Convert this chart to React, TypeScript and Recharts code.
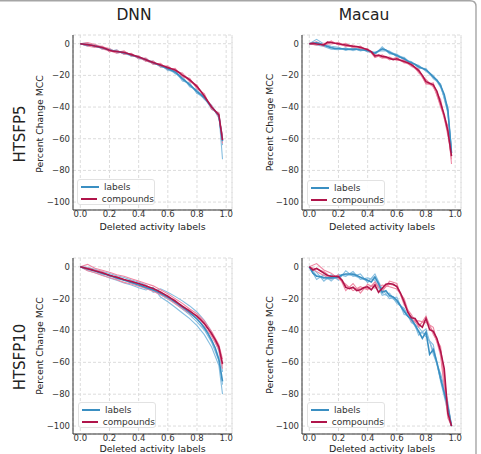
import React from 'react';
import { LineChart, Line, XAxis, YAxis, CartesianGrid, Legend, ReferenceLine } from 'recharts';

// x positions (fraction of deleted activity labels)
const X40 = [0, 0.025, 0.05, 0.075, 0.1, 0.125, 0.15, 0.175, 0.2, 0.225, 0.25, 0.275, 0.3, 0.325, 0.35, 0.375, 0.4, 0.425, 0.45, 0.475, 0.5, 0.525, 0.55, 0.575, 0.6, 0.625, 0.65, 0.675, 0.7, 0.725, 0.75, 0.775, 0.8, 0.825, 0.85, 0.875, 0.9, 0.925, 0.95, 0.975];
const X21 = [0, 0.05, 0.1, 0.15, 0.2, 0.25, 0.3, 0.35, 0.4, 0.45, 0.5, 0.55, 0.6, 0.65, 0.7, 0.75, 0.8, 0.85, 0.9, 0.95, 0.975];

const X_TICKS = [0, 0.2, 0.4, 0.6, 0.8, 1.0];
const Y_TICKS = [0, -20, -40, -60, -80, -100];
const SERIES_ORDER = ['labels', 'compounds'];

// DNN / HTSFP5
const dnn5Labels = [0, -0.4, -0.8, -1.0, -1.4, -2.0, -2.6, -3.3, -4.0, -4.5, -4.9, -5.3, -5.8, -6.4, -7.1, -7.8, -8.6, -9.4, -10.2, -11.1, -12.0, -12.9, -13.8, -14.8, -15.8, -16.8, -17.8, -19.8, -22.0, -24.0, -26.0, -28.0, -30.2, -32.0, -34.0, -37.0, -40.0, -42.5, -45.5, -61.5];
const dnn5Compounds = [0, -0.3, -0.6, -1.0, -1.5, -1.9, -2.4, -3.2, -4.1, -4.7, -4.9, -5.2, -5.6, -6.2, -6.9, -7.6, -8.4, -9.2, -10.1, -11.0, -11.9, -12.7, -13.5, -14.3, -15.1, -15.8, -16.6, -18.0, -19.8, -21.2, -22.9, -24.9, -27.1, -29.8, -33.0, -36.5, -40.0, -42.5, -45.0, -60.8];
const dnn5LabelRuns = [
  [0, 0.5, -2.2, -1.8, -4.8, -3.8, -6.6, -6.2, -9.6, -9.2, -13.0, -12.8, -17.0, -16.5, -23.5, -24.8, -31.5, -33.0, -41.5, -44.0, -73.0],
  [0, -1.6, -0.6, -3.4, -3.2, -5.8, -5.0, -8.0, -7.8, -11.2, -11.0, -14.8, -14.6, -19.0, -20.5, -27.2, -29.0, -35.2, -38.8, -47.0, -58.0],
  [0, -0.4, -1.8, -2.2, -4.6, -4.4, -6.2, -7.6, -8.2, -10.8, -12.4, -13.2, -16.4, -18.4, -22.8, -25.4, -31.0, -34.6, -40.6, -45.0, -64.0],
];
const dnn5CompoundRuns = [
  [0, 0.8, -0.5, -2.0, -3.0, -5.5, -4.5, -7.8, -7.6, -11.2, -11.0, -14.6, -14.0, -17.8, -18.5, -24.0, -26.0, -34.5, -39.0, -46.5, -58.0],
  [0, -1.5, -2.4, -1.5, -5.2, -4.0, -6.8, -6.0, -9.5, -9.0, -13.0, -12.4, -16.4, -15.5, -21.0, -21.8, -28.5, -31.5, -41.5, -43.5, -63.0],
  [0, -0.2, -1.0, -3.3, -4.5, -6.0, -5.0, -7.2, -9.0, -10.8, -12.5, -13.0, -15.5, -17.0, -20.0, -23.5, -27.0, -33.5, -39.5, -45.0, -61.0],
];

// Macau / HTSFP5
const macau5Labels = [0, 0.3, 0.5, 0, -1.0, -1.8, -2.6, -3.0, -3.0, -3.2, -3.4, -3.6, -3.5, -3.4, -3.8, -4.0, -4.4, -5.2, -6.0, -4.5, -3.2, -4.0, -5.5, -6.5, -7.5, -8.5, -9.5, -11.0, -12.0, -13.0, -14.5, -15.5, -16.5, -18.5, -21.0, -23.0, -26.5, -32.0, -42.0, -69.0];
const macau5Compounds = [0, 0.2, -0.2, -0.5, -0.8, 1.0, 0.8, 0.3, 0, -0.5, -0.8, -1.2, -1.6, -1.8, -2.3, -3.0, -3.8, -5.0, -7.8, -7.2, -8.0, -8.3, -9.2, -10.0, -9.5, -10.4, -11.2, -12.0, -13.2, -15.0, -17.0, -20.0, -24.0, -25.0, -26.0, -30.0, -37.5, -45.0, -55.0, -71.0];
const macau5LabelRuns = [
  [0, 2.8, -0.2, -1.6, -2.2, -4.2, -2.6, -4.6, -3.6, -6.8, -2.0, -6.4, -6.6, -10.4, -11.2, -15.4, -15.6, -22.0, -25.4, -44.0, -66.0],
  [0, -0.8, -1.8, -3.4, -3.8, -2.6, -4.4, -3.0, -5.2, -5.2, -4.4, -4.6, -8.4, -8.6, -12.8, -13.6, -17.4, -20.0, -27.6, -40.0, -71.0],
  [0, 1.0, -0.6, -2.2, -3.4, -3.8, -3.0, -4.2, -4.0, -6.4, -3.6, -5.0, -7.0, -9.0, -12.4, -14.0, -17.0, -21.6, -26.0, -42.8, -68.0],
];
const macau5CompoundRuns = [
  [0, 1.2, -1.6, 1.8, -0.8, 0.2, -2.6, -1.5, -4.6, -6.8, -9.2, -8.4, -10.6, -10.2, -14.4, -16.0, -25.6, -24.8, -40.0, -52.0, -76.0],
  [0, -1.0, 0.2, -0.2, 0.8, -1.8, -0.8, -3.2, -3.0, -8.8, -7.0, -10.2, -8.6, -12.2, -12.0, -18.4, -22.6, -27.4, -35.0, -58.0, -68.0],
  [0, 0.4, -1.2, 1.2, -0.4, -1.2, -2.0, -2.8, -4.2, -7.2, -8.6, -9.6, -10.0, -11.6, -13.8, -17.6, -25.0, -26.6, -38.5, -56.0, -73.0],
];

// DNN / HTSFP10
const dnn10Labels = [0, -0.7, -1.4, -2.0, -2.7, -3.4, -4.1, -4.8, -5.6, -6.3, -7.0, -7.7, -8.4, -9.1, -9.8, -10.6, -11.4, -12.2, -13.0, -13.8, -14.6, -15.6, -16.7, -17.9, -19.2, -20.6, -22.1, -23.7, -25.3, -27.0, -28.8, -30.7, -32.8, -35.3, -38.3, -41.8, -46.0, -51.0, -58.0, -72.0];
const dnn10Compounds = [0, -0.6, -1.2, -1.8, -2.5, -3.1, -3.8, -4.5, -5.3, -6.0, -6.6, -7.3, -8.0, -8.6, -9.2, -9.9, -10.5, -11.3, -12.1, -12.9, -13.7, -14.8, -16.0, -17.2, -18.5, -20.0, -21.5, -23.1, -24.8, -26.3, -27.8, -29.4, -31.0, -33.2, -35.7, -38.7, -42.0, -45.8, -50.4, -61.0];
const dnn10LabelRuns = [
  [0, -0.4, -1.6, -3.0, -4.2, -5.6, -6.8, -8.4, -9.6, -11.4, -16.0, -13.8, -16.0, -18.6, -21.4, -24.6, -28.4, -33.6, -41.0, -53.0, -66.0],
  [0, -2.4, -3.8, -5.2, -7.0, -8.4, -10.2, -11.4, -13.2, -14.6, -13.0, -19.0, -22.0, -25.4, -29.0, -32.6, -37.0, -42.6, -50.4, -62.0, -80.0],
  [0, -1.0, -2.4, -4.6, -5.0, -7.6, -8.0, -10.4, -11.0, -13.6, -15.2, -17.4, -20.2, -23.0, -26.6, -30.2, -34.6, -39.6, -47.4, -59.0, -74.0],
];
const dnn10CompoundRuns = [
  [0, 1.5, -1.0, -2.2, -3.5, -5.0, -6.0, -7.5, -9.0, -10.5, -12.0, -14.5, -17.0, -20.0, -23.0, -26.5, -29.5, -34.0, -40.5, -49.0, -58.0],
  [0, -2.5, -3.8, -5.5, -6.8, -8.2, -9.8, -10.8, -12.2, -13.6, -15.4, -17.6, -20.0, -23.2, -26.4, -29.4, -32.6, -37.4, -43.6, -52.0, -64.0],
  [0, -0.6, -2.0, -3.0, -5.8, -6.2, -8.6, -8.8, -11.0, -11.6, -14.2, -15.6, -19.0, -21.0, -25.4, -27.2, -31.6, -35.0, -42.6, -50.0, -62.0],
];

// Macau / HTSFP10
const macau10Labels = [0, -4.0, -6.0, -6.2, -6.8, -7.0, -7.0, -6.8, -6.5, -5.0, -4.5, -4.5, -4.6, -5.5, -6.5, -7.5, -8.5, -9.5, -6.5, -10.5, -16.0, -15.0, -18.0, -19.0, -21.0, -24.5, -28.0, -31.0, -33.0, -36.5, -40.5, -45.0, -41.0, -55.0, -52.0, -60.0, -70.0, -79.0, -88.0, -100.0];
const macau10Compounds = [0, -2.0, -1.0, -2.5, -4.0, -5.5, -6.0, -6.0, -6.2, -8.5, -13.0, -13.8, -12.8, -15.0, -14.5, -13.0, -12.6, -14.5, -11.5, -16.0, -13.5, -11.0, -10.5, -11.0, -12.5, -16.5, -22.0, -28.5, -32.0, -32.5, -36.0, -38.0, -32.5, -39.5, -40.5, -45.0, -53.0, -64.0, -92.0, -100.0];
const macau10LabelRuns = [
  [0, -3.5, -9.0, -5.0, -8.5, -2.5, -6.0, -4.5, -10.0, -4.5, -14.0, -20.0, -19.0, -30.0, -31.0, -43.0, -39.0, -55.0, -67.0, -85.0, -100.0],
  [0, -8.0, -5.0, -9.0, -4.8, -6.0, -3.0, -8.0, -7.0, -8.5, -18.0, -16.5, -23.0, -26.0, -35.0, -38.0, -44.0, -49.0, -72.0, -91.0, -100.0],
  [0, -5.5, -7.5, -7.8, -6.0, -5.0, -5.4, -7.0, -9.0, -6.0, -16.8, -18.6, -21.8, -27.0, -33.8, -41.0, -42.0, -52.5, -70.5, -87.0, -100.0],
];
const macau10CompoundRuns = [
  [0, 2.0, -2.0, -4.0, -7.5, -11.0, -15.0, -12.5, -14.5, -9.5, -15.5, -9.0, -10.5, -24.0, -30.0, -38.0, -31.0, -42.5, -50.0, -88.0, -100.0],
  [0, -3.0, -5.5, -7.5, -5.0, -15.0, -10.5, -16.5, -11.0, -13.5, -11.5, -12.5, -14.0, -20.0, -34.0, -34.0, -35.0, -38.0, -56.0, -95.0, -100.0],
  [0, -1.5, -3.0, -6.5, -6.8, -12.0, -13.5, -13.8, -13.6, -10.8, -14.2, -11.0, -12.0, -22.8, -32.6, -36.8, -33.0, -41.0, -53.5, -91.0, -100.0],
];

const FONT = '"DejaVu Sans", sans-serif';
const BLUE = '#3a8fc2';
const RED = '#b0144a';
const BLUE_THIN = '#86bee0';
const RED_THIN = '#ef88a3';
const X_DOMAIN: [number, number] = [-0.05, 1.04];

const pts = (xs: number[], ys: number[]) => xs.map((x, i) => ({ x, y: ys[i] }));
const fmtY = (v: number) => (v < 0 ? `\u2212${Math.abs(v)}` : `${v}`);

const LegendBox = (props: any) => {
  const items = (props.payload || [])
    .filter((p: any) => p.type !== 'none')
    .sort((a: any, b: any) => SERIES_ORDER.indexOf(a.value) - SERIES_ORDER.indexOf(b.value));
  return (
    <div
      style={{
        width: 78,
        height: 26,
        boxSizing: 'border-box',
        border: '1px solid #e2e2e2',
        borderRadius: 3,
        background: 'rgba(255,255,255,0.9)',
        padding: '1px 0 0 3px',
        fontFamily: FONT,
        fontSize: 9,
        color: '#333',
      }}
    >
      {items.map((p: any) => (
        <div key={p.value} style={{ display: 'flex', alignItems: 'center', height: 12 }}>
          <span style={{ display: 'inline-block', width: 18, height: 1.6, background: p.color, marginRight: 5 }} />
          <span>{p.value}</span>
        </div>
      ))}
    </div>
  );
};

interface PanelProps {
  left: number;
  top: number;
  width: number;
  margin: { top: number; right: number; bottom: number; left: number };
  labels: number[];
  compounds: number[];
  labelRuns: number[][];
  compoundRuns: number[][];
  legendPos: { left: number; top: number };
}

const Panel: React.FC<PanelProps> = ({ left, top, width, margin, labels, compounds, labelRuns, compoundRuns, legendPos }) => (
  <div style={{ position: 'absolute', left, top }}>
    <LineChart width={width} height={227} margin={margin}>
      <CartesianGrid stroke="#dcdcdc" strokeDasharray="3 2" />
      <XAxis
        type="number"
        dataKey="x"
        domain={X_DOMAIN}
        ticks={X_TICKS}
        allowDataOverflow
        height={17}
        tickSize={0}
        tickMargin={1}
        tickFormatter={(v) => v.toFixed(1)}
        stroke="#333"
        tick={{ fontSize: 8.5, fill: '#333', fontFamily: FONT }}
      />
      <YAxis
        type="number"
        dataKey="y"
        domain={[-105, 5.5]}
        ticks={Y_TICKS}
        allowDataOverflow
        width={40}
        tickSize={0}
        tickMargin={3}
        tickFormatter={fmtY}
        stroke="#333"
        tick={{ fontSize: 8.5, fill: '#333', fontFamily: FONT }}
      />
      <ReferenceLine x={X_DOMAIN[1]} stroke="#dcdcdc" strokeDasharray="3 2" />
      {labelRuns.map((r, i) => (
        <Line key={`lr${i}`} data={pts(X21, r)} dataKey="y" stroke={BLUE_THIN} strokeWidth={1.1} dot={false} legendType="none" isAnimationActive={false} />
      ))}
      {compoundRuns.map((r, i) => (
        <Line key={`cr${i}`} data={pts(X21, r)} dataKey="y" stroke={RED_THIN} strokeWidth={1.1} dot={false} legendType="none" isAnimationActive={false} />
      ))}
      <Line data={pts(X40, labels)} dataKey="y" name="labels" stroke={BLUE} strokeWidth={1.6} dot={false} isAnimationActive={false} />
      <Line data={pts(X40, compounds)} dataKey="y" name="compounds" stroke={RED} strokeWidth={1.6} dot={false} isAnimationActive={false} />
      <Legend
        layout="horizontal"
        align="center"
        verticalAlign="middle"
        content={<LegendBox />}
        wrapperStyle={{ left: legendPos.left, top: legendPos.top, width: 80 }}
      />
    </LineChart>
  </div>
);

const rotated = (text: string, x: number, y: number, size: number) => (
  <text x={x} y={y} transform={`rotate(-90 ${x} ${y})`} textAnchor="middle" fontSize={size} fill="#222" fontFamily={FONT}>
    {text}
  </text>
);

const flat = (text: string, x: number, y: number, size: number) => (
  <text x={x} y={y} textAnchor="middle" fontSize={size} fill="#222" fontFamily={FONT}>
    {text}
  </text>
);

export default function App() {
  return (
    <div style={{ position: 'absolute', left: 0, top: 0, width: 481, height: 454, background: '#fff', overflow: 'hidden' }}>
      <Panel left={0} top={0} width={240} margin={{ top: 35, right: 8, bottom: 0, left: 33 }}
        labels={dnn5Labels} compounds={dnn5Compounds} labelRuns={dnn5LabelRuns} compoundRuns={dnn5CompoundRuns}
        legendPos={{ left: 77, top: 179 }} />
      <Panel left={240} top={0} width={241} margin={{ top: 35, right: 20, bottom: 0, left: 22 }}
        labels={macau5Labels} compounds={macau5Compounds} labelRuns={macau5LabelRuns} compoundRuns={macau5CompoundRuns}
        legendPos={{ left: 67, top: 180 }} />
      <Panel left={0} top={227} width={240} margin={{ top: 31, right: 8, bottom: 3, left: 33 }}
        labels={dnn10Labels} compounds={dnn10Compounds} labelRuns={dnn10LabelRuns} compoundRuns={dnn10CompoundRuns}
        legendPos={{ left: 78, top: 175 }} />
      <Panel left={240} top={227} width={241} margin={{ top: 31, right: 20, bottom: 3, left: 22 }}
        labels={macau10Labels} compounds={macau10Compounds} labelRuns={macau10LabelRuns} compoundRuns={macau10CompoundRuns}
        legendPos={{ left: 67, top: 175 }} />
      <svg width={481} height={454} style={{ position: 'absolute', left: 0, top: 0, pointerEvents: 'none' }}>
        <path d="M0 0.8 H470 Q476 0.8 476 6.5 V454" fill="none" stroke="#a5a5a5" strokeWidth={1.4} />
        {flat('DNN', 134, 20, 15.5)}
        {flat('Macau', 364, 20, 15.5)}
        {rotated('HTSFP5', 25, 134, 15)}
        {rotated('HTSFP10', 25, 357, 15)}
        {rotated('Percent Change MCC', 43, 124, 9.3)}
        {rotated('Percent Change MCC', 273, 122.5, 9.3)}
        {rotated('Percent Change MCC', 43, 346, 9.3)}
        {rotated('Percent Change MCC', 273, 345, 9.3)}
        {flat('Deleted activity labels', 152.5, 229.5, 9.5)}
        {flat('Deleted activity labels', 382, 229.5, 9.5)}
        {flat('Deleted activity labels', 152.5, 451.5, 9.5)}
        {flat('Deleted activity labels', 382, 451.5, 9.5)}
      </svg>
    </div>
  );
}
